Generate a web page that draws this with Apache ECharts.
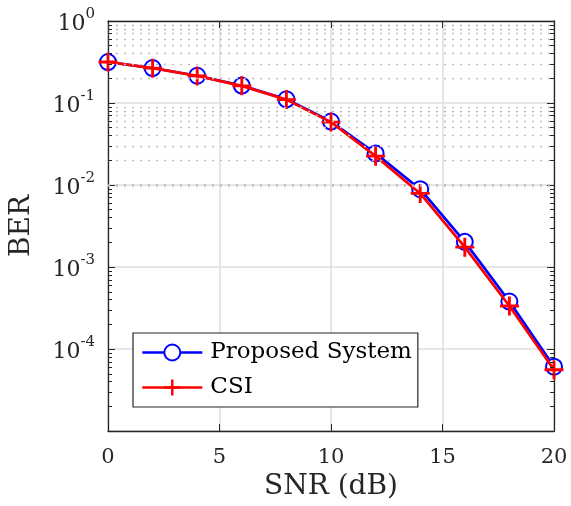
<!DOCTYPE html>
<html>
<head>
<meta charset="utf-8">
<script src="https://cdn.jsdelivr.net/npm/echarts@6/dist/echarts.min.js"></script>
<style>
html, body { margin: 0; padding: 0; background: #fff; }
#chart { width: 571px; height: 506px; }
</style>
</head>
<body>
<div id="chart"></div>
<script>
// data
var snr = [0, 2, 4, 6, 8, 10, 12, 14, 16, 18, 20];
var berProposed = [0.316, 0.267, 0.215, 0.163, 0.111, 0.0595, 0.0243, 0.0089, 0.00203, 0.00038, 0.000061];
var berCsi = [0.316, 0.266, 0.214, 0.162, 0.110, 0.0585, 0.0225, 0.0079, 0.00175, 0.000335, 0.000056];
var yExps = [0, -1, -2, -3, -4];   // exponents that get a label
var decades = [-5, -4, -3, -2, -1];
var mantissas = [2, 3, 4, 5, 6, 7, 8, 9];

var FONT = 'DejaVu Serif';
var AX = '#262626';

function pairs(xs, ys) {
  return xs.map(function (x, i) { return [x, ys[i]]; });
}

// minor grid (dotted) + minor ticks on left and right, at 2..9 x 10^d
var minorLines = [];
decades.forEach(function (d) {
  mantissas.forEach(function (m) {
    var v = m * Math.pow(10, d);
    minorLines.push({ yAxis: v, lineStyle: { color: '#bdbdbd', width: 1.4, type: [2, 6] } });
    minorLines.push([{ coord: [0, v], lineStyle: { color: AX, width: 1, type: 'solid' } }, { coord: [0.18, v] }]);
    minorLines.push([{ coord: [19.82, v], lineStyle: { color: AX, width: 1, type: 'solid' } }, { coord: [20, v] }]);
  });
});

var plusPath = 'path://M-1.5,-10 L1.5,-10 L1.5,-1.5 L10,-1.5 L10,1.5 L1.5,1.5 L1.5,10 L-1.5,10 L-1.5,1.5 L-10,1.5 L-10,-1.5 L-1.5,-1.5 Z';

var myChart = echarts.init(document.getElementById('chart'));
var option = {
  backgroundColor: '#fff',
  animation: false,
  grid: { left: 107, right: 17, top: 21, bottom: 74, containLabel: false },
  legend: {
    data: ['Proposed System', 'CSI'],
    orient: 'vertical',
    left: 133,
    top: 333,
    backgroundColor: '#fff',
    borderColor: AX,
    borderWidth: 1.2,
    borderRadius: 0,
    padding: [8, 6, 8, 8],
    itemGap: 12,
    itemWidth: 60,
    itemHeight: 20,
    lineStyle: { width: 2.6 },
    textStyle: { fontFamily: FONT, fontSize: 23, color: '#000', padding: [0, 0, 0, 3] }
  },
  xAxis: [{
    type: 'value',
    min: 0, max: 20, interval: 5,
    position: 'bottom',
    name: 'SNR (dB)',
    nameLocation: 'middle',
    nameGap: 40,
    nameTextStyle: { fontFamily: FONT, fontSize: 28, color: AX },
    axisLine: { show: true, onZero: false, lineStyle: { color: AX, width: 1.3 } },
    axisTick: { show: true, inside: true, length: 7, lineStyle: { color: AX, width: 1 } },
    axisLabel: { fontFamily: FONT, fontSize: 21, color: AX, margin: 16 },
    splitLine: { show: true, lineStyle: { color: '#dedede', width: 1.5 } }
  }, {
    type: 'value',
    min: 0, max: 20, interval: 5,
    position: 'top',
    axisLine: { show: true, onZero: false, lineStyle: { color: AX, width: 1.3 } },
    axisTick: { show: true, inside: true, length: 7, lineStyle: { color: AX, width: 1 } },
    axisLabel: { show: false },
    splitLine: { show: false }
  }],
  yAxis: [{
    type: 'log',
    logBase: 10,
    min: 1e-5, max: 1,
    position: 'left',
    name: 'BER',
    nameLocation: 'middle',
    nameGap: 72,
    nameTextStyle: { fontFamily: FONT, fontSize: 28, color: AX },
    axisLine: { show: true, onZero: false, lineStyle: { color: AX, width: 1.3 } },
    axisTick: { show: true, inside: true, length: 7, lineStyle: { color: AX, width: 1 } },
    axisLabel: {
      margin: 13,
      formatter: function (v) {
        var e = Math.round(Math.log10(v));
        if (yExps.indexOf(e) < 0) return '';
        return '{b|10}{s|' + e + '}';
      },
      rich: {
        b: { fontFamily: FONT, fontSize: 22, color: AX, padding: [7, 0, 0, 0] },
        s: { fontFamily: FONT, fontSize: 15, color: AX, verticalAlign: 'top' }
      }
    },
    splitLine: { show: true, lineStyle: { color: '#dedede', width: 1.5 } }
  }, {
    type: 'log',
    logBase: 10,
    min: 1e-5, max: 1,
    position: 'right',
    axisLine: { show: true, onZero: false, lineStyle: { color: AX, width: 1.3 } },
    axisTick: { show: true, inside: true, length: 7, lineStyle: { color: AX, width: 1 } },
    axisLabel: { show: false },
    splitLine: { show: false }
  }],
  series: [{
    name: 'minor',
    type: 'line',
    data: [],
    silent: true,
    z: 1,
    markLine: {
      silent: true,
      symbol: 'none',
      label: { show: false },
      animation: false,
      data: minorLines
    }
  }, {
    name: 'Proposed System',
    type: 'line',
    z: 3,
    data: pairs(snr, berProposed),
    symbol: 'emptyCircle',
    symbolSize: 16,
    lineStyle: { color: '#0000ff', width: 2.7 },
    itemStyle: { color: '#0000ff', borderColor: '#0000ff', borderWidth: 2.8 }
  }, {
    name: 'CSI',
    type: 'line',
    z: 4,
    data: pairs(snr, berCsi),
    symbol: plusPath,
    symbolSize: 19,
    lineStyle: { color: '#ff0000', width: 2.7 },
    itemStyle: { color: '#ff0000' }
  }]
};
myChart.setOption(option);
</script>
</body>
</html>
